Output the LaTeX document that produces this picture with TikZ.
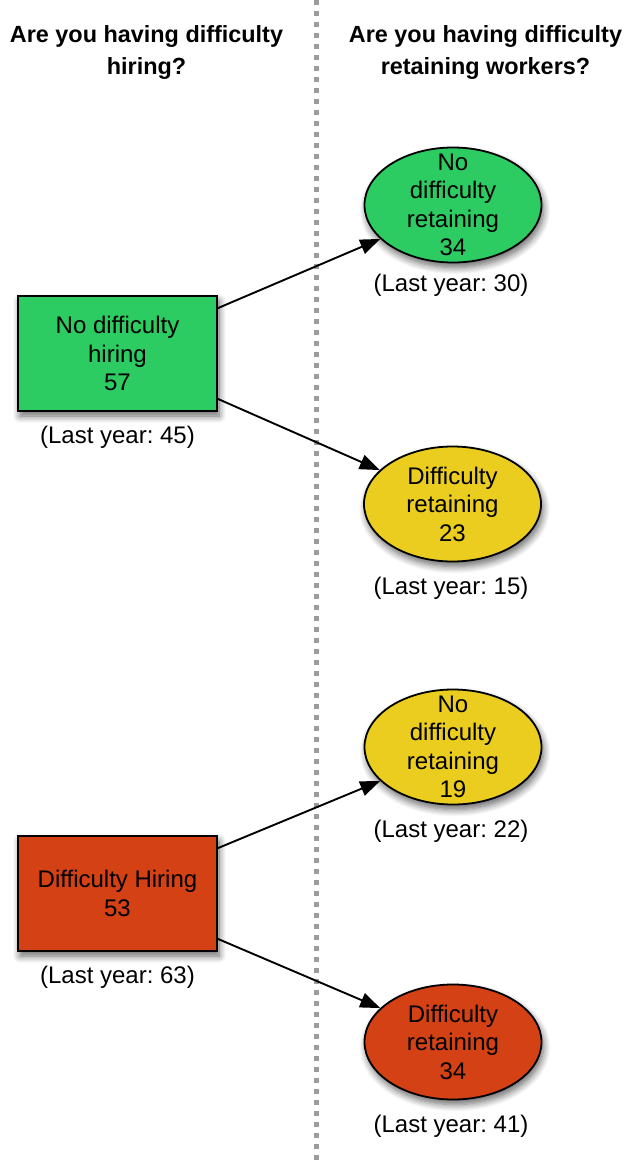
\documentclass[tikz,border=0pt]{standalone}
\usepackage{fontspec}
\setmainfont{Liberation Sans}
\usetikzlibrary{arrows.meta,shadows.blur,calc,shapes.geometric}
\definecolor{cgreen}{HTML}{2DCC62}
\definecolor{cyellow}{HTML}{EACD1F}
\definecolor{cred}{HTML}{D34114}
\definecolor{cdots}{HTML}{9C9C9C}
\frenchspacing
\begin{document}
\begin{tikzpicture}[x=1pt,y=-1pt,
  hdr/.style={font=\fontsize{23.4}{32.6}\selectfont\bfseries, align=center, inner sep=0pt},
  txt/.style={font=\fontsize{24}{28.5}\selectfont, align=center, inner sep=0pt},
  lbl/.style={font=\fontsize{24}{28.5}\selectfont, inner sep=0pt, anchor=base},
  shad/.style={blur shadow={shadow xshift=2pt, shadow yshift=-5pt, shadow blur radius=7pt, shadow blur steps=8, shadow opacity=60}},
  boxnode/.style={draw=black, line width=1.8pt, minimum width=199pt, minimum height=115pt, inner sep=0pt, shad},
  ell/.style={ellipse, draw=black, line width=1.8pt, minimum width=177pt, minimum height=115pt, inner sep=0pt, shad},
  arr/.style={line width=1.9pt, -{Triangle[length=20pt,width=15pt]}},
  divider/.style={draw=cdots, line width=5pt, dash pattern=on 5pt off 6pt}]

\useasboundingbox (0,0) rectangle (627,1163);

% divider
\coordinate (dtop) at (316.5,0);
\coordinate (dbot) at (316.5,1163);
\draw[divider] (dtop) -- (dbot);

% headers
\node[hdr, anchor=north] (h1) at (146.5,25) {Are you having difficulty\\hiring?};
\node[hdr, anchor=north] (h2) at (485.5,25) {Are you having difficulty\\retaining workers?};

% hiring boxes
\node[boxnode, fill=cgreen] (b1) at (117.5,353.5) {};
\node[txt] (t1) at (b1.center) {No difficulty\\hiring\\57};
\node[lbl] (l1) at (117.5,443) {(Last year: 45)};

\node[boxnode, fill=cred] (b2) at (117.5,893.5) {};
\node[txt] (t2) at (b2.center) {Difficulty Hiring\\53};
\node[lbl] (l2) at (117.5,983) {(Last year: 63)};

% retaining ellipses
\node[ell, fill=cgreen] (e1) at (453,205) {};
\node[txt] (te1) at (e1.center) {No\\difficulty\\retaining\\34};
\node[lbl] (le1) at (451,291) {(Last year: 30)};

\node[ell, fill=cyellow] (e2) at (452.5,504) {};
\node[txt] (te2) at (e2.center) {Difficulty\\retaining\\23};
\node[lbl] (le2) at (451,594) {(Last year: 15)};

\node[ell, fill=cyellow] (e3) at (453,747) {};
\node[txt] (te3) at (e3.center) {No\\difficulty\\retaining\\19};
\node[lbl] (le3) at (451,837) {(Last year: 22)};

\node[ell, fill=cred] (e4) at (453,1042) {};
\node[txt] (te4) at (e4.center) {Difficulty\\retaining\\34};
\node[lbl] (le4) at (451,1132) {(Last year: 41)};

% connectors
\draw[arr] ([yshift=-13pt]b1.north east) -- (e1.205);
\draw[arr] ([yshift=13pt]b1.south east) -- (e2.155);
\draw[arr] ([yshift=-13pt]b2.north east) -- (e3.205);
\draw[arr] ([yshift=13pt]b2.south east) -- (e4.155);
\end{tikzpicture}
\end{document}
